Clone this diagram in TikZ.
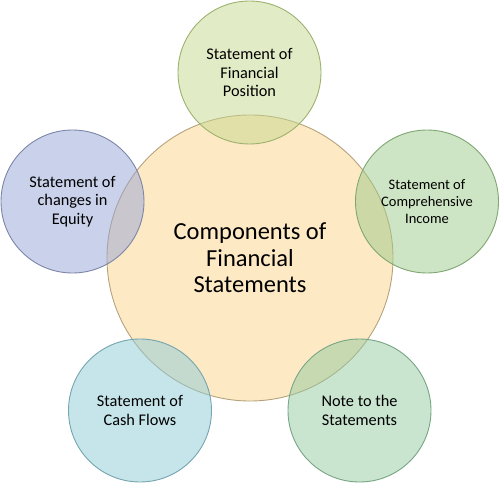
\documentclass[tikz,border=0pt]{standalone}
\usepackage{fontspec}
\setmainfont{Carlito}

\definecolor{hubfill}{HTML}{FBD38A}
\definecolor{hubline}{HTML}{B5A37E}
\definecolor{posfill}{HTML}{C4D88E}
\definecolor{posline}{HTML}{9DB26E}
\definecolor{eqfill}{HTML}{95A3D6}
\definecolor{eqline}{HTML}{7C86A8}
\definecolor{incfill}{HTML}{9CCB89}
\definecolor{incline}{HTML}{7FA673}
\definecolor{cashfill}{HTML}{8ECCD8}
\definecolor{cashline}{HTML}{74A5AE}
\definecolor{notefill}{HTML}{93C9A0}
\definecolor{noteline}{HTML}{78A584}

\begin{document}
\begin{tikzpicture}[x=1pt,y=1pt,
  bubble/.style={circle, inner sep=0pt, minimum size=143pt, fill opacity=0.5,
    text opacity=1, line width=0.9pt, align=center,
    font=\fontsize{16.3}{18.3}\selectfont}]
\path (0,0) rectangle (500,483);
% centre
\node[bubble, minimum size=286pt, fill=hubfill, draw=hubline,
  font=\fontsize{24.5}{26.5}\selectfont] (hub) at (250,225) {Components of\\Financial\\Statements};
% outer ring
\node[bubble, fill=posfill, draw=posline] (position) at (249.5,410.5) {Statement of\\Financial\\Position};
\node[bubble, fill=eqfill, draw=eqline] (equity) at (72.5,281.5) {Statement of\\changes in\\Equity};
\node[bubble, fill=incfill, draw=incline,
  font=\fontsize{14.5}{16.7}\selectfont] (income) at (427,281.5) {Statement of\\Comprehensive\\Income};
\node[bubble, fill=cashfill, draw=cashline] (cash) at (140,72.5) {Statement of\\Cash Flows};
\node[bubble, fill=notefill, draw=noteline] (notes) at (359.5,72.5) {Note to the\\Statements};
\end{tikzpicture}
\end{document}
